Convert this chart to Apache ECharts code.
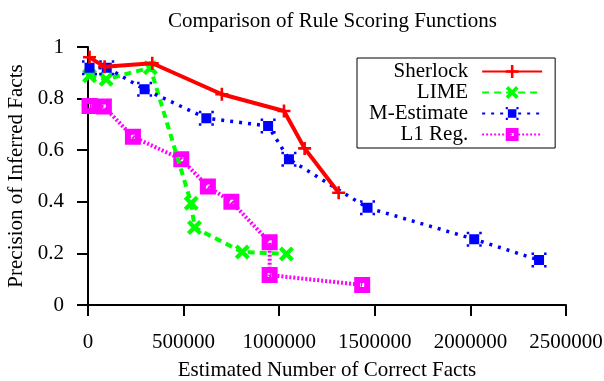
<!DOCTYPE html>
<html><head><meta charset="utf-8">
<script src="https://cdn.jsdelivr.net/npm/echarts@6/dist/echarts.min.js"></script>
<style>html,body{margin:0;padding:0;background:#fff}#c{width:604px;height:381px}</style>
</head><body><div id="c"></div>
<script>
const titleText = 'Comparison of Rule Scoring Functions';
const xName = 'Estimated Number of Correct Facts';
const yName = 'Precision of Inferred Facts';
const seriesNames = ['Sherlock', 'LIME', 'M-Estimate', 'L1 Reg.'];
const sherlockX = [8000, 87000, 336000, 700000, 1025000, 1133000, 1311000];
const sherlockY = [0.96, 0.923, 0.937, 0.817, 0.752, 0.607, 0.435];
const limeX = [8000, 95000, 326000, 540000, 557000, 807000, 1038000];
const limeY = [0.889, 0.875, 0.92, 0.394, 0.30, 0.205, 0.198];
const mestX = [8000, 98000, 296000, 619000, 942000, 1051000, 1462000, 2020000, 2359000];
const mestY = [0.92, 0.92, 0.836, 0.724, 0.694, 0.565, 0.377, 0.255, 0.174];
const l1X = [8000, 83000, 235000, 488000, 627000, 750000, 950000, 950000, 1434000];
const l1Y = [0.771, 0.769, 0.652, 0.565, 0.459, 0.40, 0.243, 0.116, 0.078];
const xTicks = [0, 500000, 1000000, 1500000, 2000000, 2500000];
const yTicks = [0, 0.2, 0.4, 0.6, 0.8, 1];

const zip = (xs, ys) => xs.map((x, i) => [x, ys[i]]);
const FONT = 'Liberation Serif';
const symPlus = 'path://M4,0H6V4H10V6H6V10H4V6H0V4H4Z';
const symX = 'path://M0,2L2,0L5,3L8,0L10,2L7,5L10,8L8,10L5,7L2,10L0,8L3,5Z';
const symBox = 'path://M2,2H10V10H2Z M0,0H2V2H0Z M10,0H12V2H10Z M10,10H12V12H10Z M0,10H2V12H0Z';
const symSq = 'path://M0,0H12V12H0Z M4.5,4.5V7.5H7.5V4.5Z';

const chart = echarts.init(document.getElementById('c'));
chart.setOption({
  animation: false,
  backgroundColor: '#fff',
  title: { text: titleText, left: 163, top: 6,
    textStyle: { fontFamily: FONT, fontSize: 21, fontWeight: 'normal', color: '#000' } },
  grid: { left: 88, right: 38, top: 47, bottom: 76, outerBoundsMode: 'none', containLabel: false },
  legend: {
    orient: 'vertical', left: 357, top: 58, align: 'right',
    data: seriesNames,
    backgroundColor: '#fff', borderColor: '#000', borderWidth: 1,
    padding: [3, 12, 3, 12], itemGap: 0, itemWidth: 60, itemHeight: 16,
    textStyle: { fontFamily: FONT, fontSize: 21, color: '#000', width: 99, align: 'right', lineHeight: 20.6, padding: [0, 9, 0, 0] }
  },
  xAxis: {
    type: 'value', min: xTicks[0], max: xTicks[xTicks.length - 1], interval: xTicks[1] - xTicks[0],
    name: xName, nameLocation: 'middle', nameGap: 55,
    nameTextStyle: { fontFamily: FONT, fontSize: 21, color: '#000' },
    axisLine: { lineStyle: { color: '#000', width: 2 } },
    axisTick: { inside: false, length: 11, lineStyle: { color: '#000', width: 2 } },
    axisLabel: { fontFamily: FONT, fontSize: 21, color: '#000', margin: 27, formatter: v => String(v) },
    splitLine: { show: false }
  },
  yAxis: {
    type: 'value', min: yTicks[0], max: yTicks[yTicks.length - 1], interval: yTicks[1] - yTicks[0],
    name: yName, nameLocation: 'middle', nameGap: 60,
    nameTextStyle: { fontFamily: FONT, fontSize: 21, color: '#000' },
    axisLine: { show: true, lineStyle: { color: '#000', width: 2 } },
    axisTick: { show: true, inside: false, length: 11, lineStyle: { color: '#000', width: 2 } },
    axisLabel: { fontFamily: FONT, fontSize: 21, color: '#000', margin: 24, formatter: v => String(v) },
    splitLine: { show: false }
  },
  series: [
    { name: seriesNames[0], type: 'line', data: zip(sherlockX, sherlockY), z: 5,
      symbol: symPlus, symbolSize: 13, color: '#ff0000',
      lineStyle: { width: 4, color: '#ff0000' }, itemStyle: { color: '#ff0000' } },
    { name: seriesNames[1], type: 'line', data: zip(limeX, limeY), z: 3,
      symbol: symX, symbolSize: 15, color: '#00ff00',
      lineStyle: { width: 4, color: '#00ff00', type: [7, 5] }, itemStyle: { color: '#00ff00' } },
    { name: seriesNames[2], type: 'line', data: zip(mestX, mestY), z: 4,
      symbol: symBox, symbolSize: 15, color: '#0000ff',
      lineStyle: { width: 3.5, color: '#0000ff', type: [3, 6] }, itemStyle: { color: '#0000ff' } },
    { name: seriesNames[3], type: 'line', data: zip(l1X, l1Y), z: 2,
      symbol: symSq, symbolSize: 16, color: '#ff00ff',
      lineStyle: { width: 4, color: '#ff00ff', type: [2, 2] }, itemStyle: { color: '#ff00ff' } }
  ]
});
</script></body></html>
